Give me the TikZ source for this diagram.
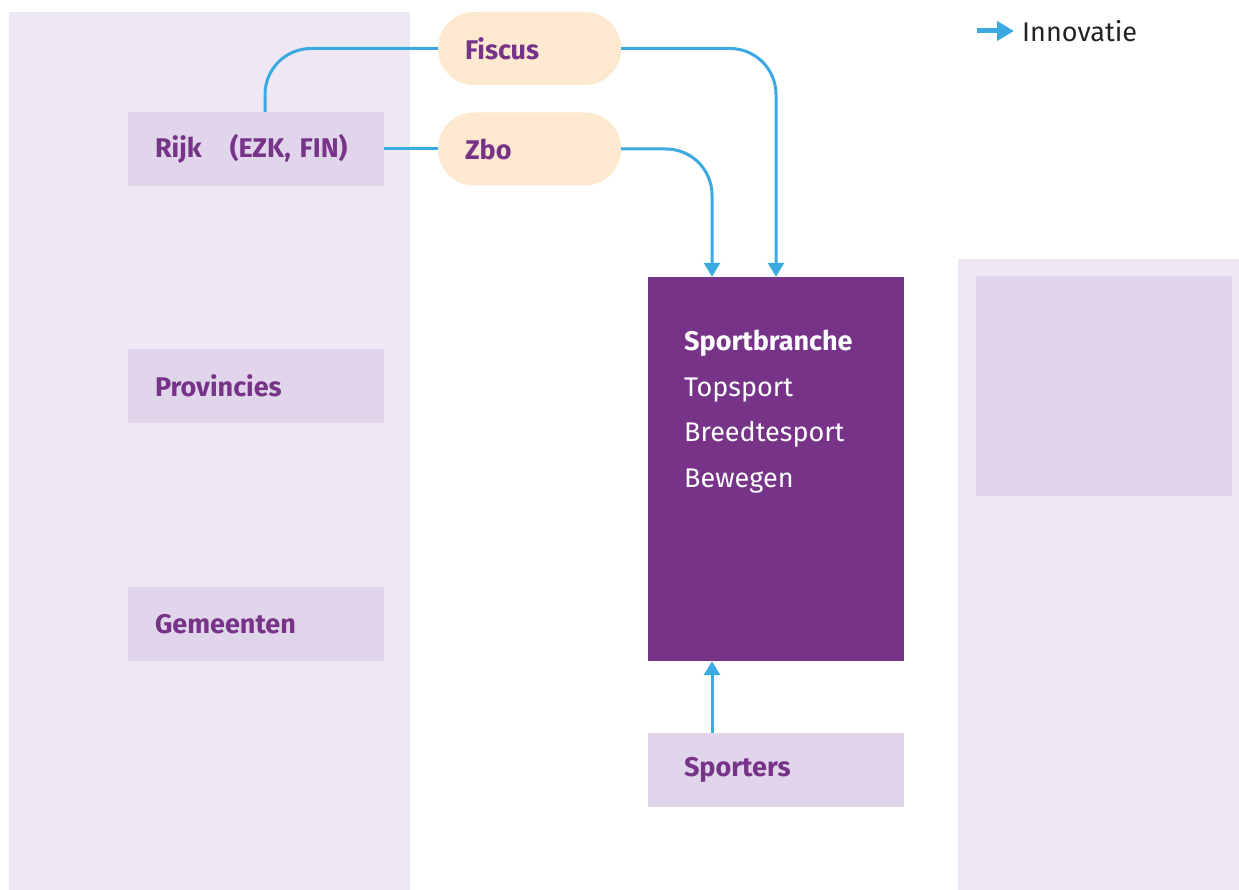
\documentclass[tikz,border=0pt]{standalone}
\usepackage{fontspec}
\setmainfont{Fira Sans}
\newcommand\lightfont{\mdseries}
\usepackage{xcolor}
\usetikzlibrary{arrows.meta,positioning}
\definecolor{panel}{RGB}{238,232,245}
\definecolor{actor}{RGB}{225,213,235}
\definecolor{branche}{RGB}{118,51,136}
\definecolor{agency}{RGB}{253,232,208}
\definecolor{flow}{RGB}{58,170,225}
\definecolor{legendtext}{RGB}{35,35,35}

\begin{document}
\begin{tikzpicture}[x=1pt, y=-1pt,
    every node/.style={font=\fontsize{27}{30}\selectfont},
    actorbox/.style={rectangle, fill=actor, minimum width=256pt, minimum height=74pt, text width=202pt, inner xsep=27pt, align=left, text=branche, font=\fontsize{27}{30}\selectfont\bfseries},
    pill/.style={rectangle, rounded corners=36pt, fill=agency, minimum width=183pt, minimum height=73pt, text width=129pt, inner xsep=27pt, align=left, text=branche, font=\fontsize{27}{30}\selectfont\bfseries},
    link/.style={draw=flow, line width=3pt, rounded corners=46pt},
    tip/.style={-{Triangle[width=16pt,length=14pt]}}
]
    \useasboundingbox (0,0) rectangle (1239,890);
    % background panels
    \fill[panel] (9,12) rectangle (410,890);
    \fill[panel] (958,259) rectangle (1239,890);
    \fill[actor] (976,276) rectangle (1232,496);

    % actors
    \node[actorbox] (rijk) at (256,149) {Rijk\hspace{28pt}(EZK, FIN)};
    \node[actorbox] (prov) at (256,386) {Provincies};
    \node[actorbox] (gem) at (256,624) {Gemeenten};
    \node[actorbox, text width=184pt, inner xsep=36pt] (sporters) at (776,770) {Sporters};

    \node[pill] (fiscus) at (529.5,48.5) {Fiscus};
    \node[pill] (zbo) at (529.5,149) {Zbo};

    \node[rectangle, fill=branche, minimum width=256pt, minimum height=384pt] (sb) at (776,469) {};
    \node[anchor=north west, text=white, align=left, inner sep=0pt, font=\fontsize{27}{45.5}\selectfont] (sbtext) at (684,330)
        {\textbf{Sportbranche}\\\lightfont Topsport\\\lightfont Breedtesport\\\lightfont Bewegen};

    % connectors
    \draw[link] (fiscus.west) -| ([xshift=9pt]rijk.north);
    \draw[link] (rijk.east) -- (zbo.west);
    \draw[link, tip] (fiscus.east) -| (sb.north);
    \draw[link, tip] (zbo.east) -| ([xshift=-64pt]sb.north);
    \draw[link, tip] ([xshift=-64pt]sporters.north) -- ([xshift=-64pt]sb.south);

    % legend
    \coordinate (lga) at (977,31);
    \node[anchor=west, inner sep=0pt, text=legendtext, font=\fontsize{27}{30}\selectfont\lightfont] (lgtext) at (1022,31) {Innovatie};
    \draw[draw=flow, line width=5pt, -{Triangle[width=19pt,length=17pt]}] (lga) -- ([xshift=-8pt]lgtext.west);
\end{tikzpicture}
\end{document}
